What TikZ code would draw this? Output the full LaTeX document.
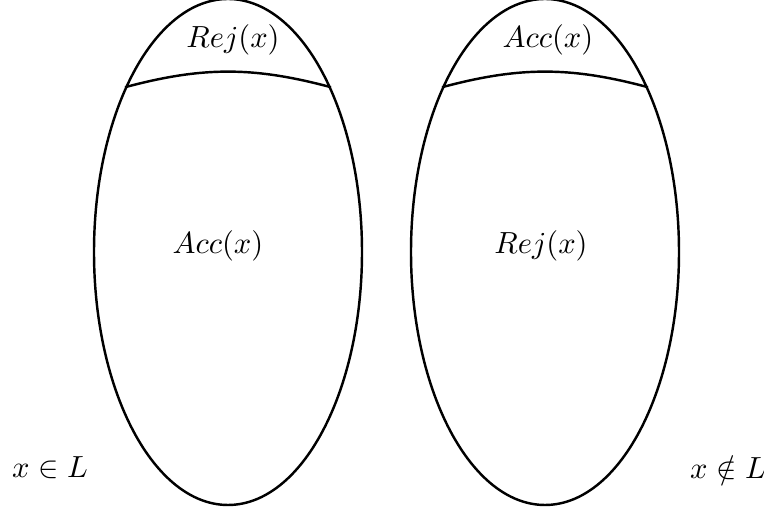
\documentclass[tikz,border=0pt]{standalone}
\usepackage{amsmath,amssymb}
\usetikzlibrary{shapes.geometric}
\tikzset{set/.style={draw,thick,ellipse,inner sep=0pt,minimum width=268*0.0115cm,minimum height=506*0.0115cm}}
\begin{document}
\begin{tikzpicture}[x=0.0115cm,y=0.0115cm]
    \useasboundingbox(0,0)rectangle(764,518);
    \node[set](inL)at(228,266){};\node[set](notL)at(545,266){};
    \draw[thick](inL.122)to[bend left=15](inL.58);
    \draw[thick](notL.122)to[bend left=15](notL.58);
    \node(rejA)at(233,478){$Rej(x)$};\node(accA)at(218,272){$Acc(x)$};
    \node(accB)at(548,478){$Acc(x)$};\node(rejB)at(541,272){$Rej(x)$};
    \node(inlab)at(50,50){$x\in L$};\node(outlab)at(728,50){$x\notin L$};
  \end{tikzpicture}
\end{document}
